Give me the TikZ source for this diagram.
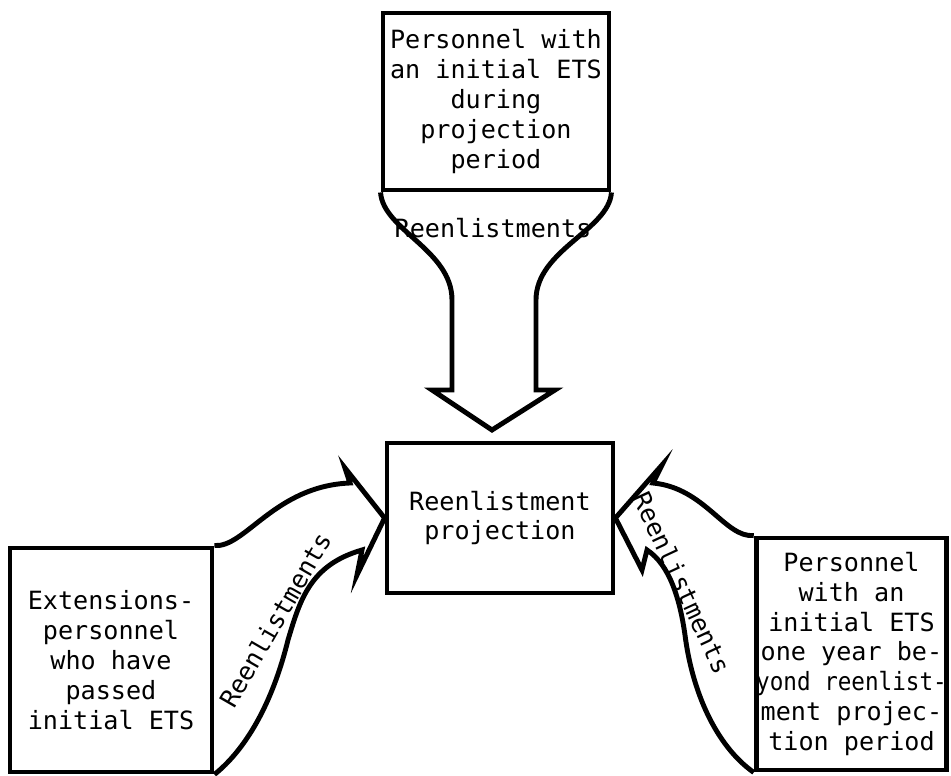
\documentclass[tikz,border=0pt]{standalone}
\usepackage{fontspec}
\setmonofont{DejaVu Sans Mono}

\begin{document}
\begin{tikzpicture}[x=0.02cm,y=-0.02cm,
        box/.style={draw,line width=2.8pt,align=center,inner sep=0pt,font=\ttfamily\fontsize{14.3}{17}\selectfont},
        flow/.style={line width=2.8pt,line join=miter},
        lbl/.style={inner sep=0pt,font=\ttfamily\fontsize{14.3}{17}\selectfont}]
                \useasboundingbox (0,0) rectangle (951,776);

                \node[box,minimum width=4.52cm,minimum height=3.54cm] (initial) at (496,101.5) {Personnel with\\an initial ETS\\during\\projection\\period};
                \node[box,minimum width=4.52cm,minimum height=3cm] (proj) at (500,518) {Reenlistment\\projection};
                \node[box,minimum width=4.04cm,minimum height=4.48cm] (ext) at (111,660) {Extensions-\\personnel\\who have\\passed\\initial ETS};
                \node[box,minimum width=3.78cm,minimum height=4.64cm] (beyond) at (851.5,654) {Personnel\\with an\\initial ETS\\one year be-\\\scalebox{0.9}[1]{yond reenlist-}\\ment projec-\\tion period};

                % funnel from the top box
                \draw[flow] (initial.south west) .. controls (383,230) and (452,250) .. (452,300) -- (452,390) -- (432,390) -- (492,430)
                        -- (555,390) -- (536,390) -- (536,300) .. controls (536,250) and (609,230) .. (initial.south east);
                \node[lbl] (r1) at (493,228) {Reenlistments};

                % side arrows
                \draw[flow] (ext.north east) .. controls (245,548) and (275,486) .. (350,483) -- (345,468) -- (proj.west) -- (357,575)
                        -- (362,550) .. controls (310,565) and (300,600) .. (288,640) .. controls (272,705) and (245,750) .. (ext.south east);
                \node[lbl,rotate=60] (r2) at (275,620) {Reenlistments};

                \draw[flow] (beyond.north west) .. controls (725,538) and (705,488) .. (653,483) -- (662,465) -- (proj.east) -- (642,570)
                        -- (647,550) .. controls (670,565) and (680,600) .. (685,635) .. controls (692,690) and (715,745) .. (beyond.south west);
                \node[lbl,rotate=-65] (r3) at (682,583) {Reenlistments};
            \end{tikzpicture}
\end{document}
